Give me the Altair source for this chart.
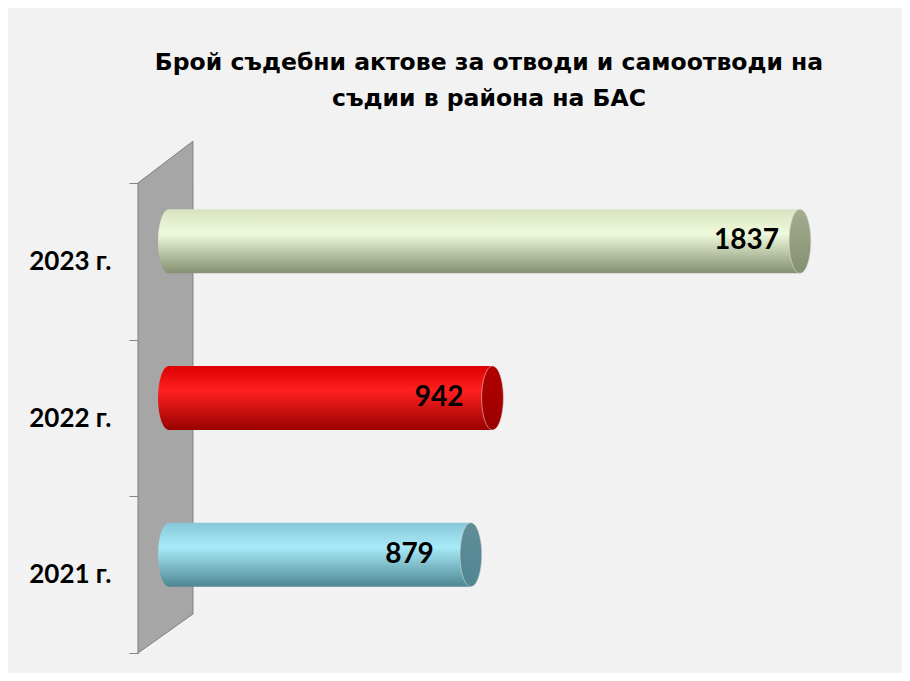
import altair as alt
import pandas as pd

# ---- data ----
years = ["2023 г.", "2022 г.", "2021 г."]
values = [1837, 942, 879]
title_lines = ["Брой съдебни актове за отводи и самоотводи на", "съдии в района на БАС"]

# ---- styles ----
bar_top = ["#d9e3c2", "#dd0000", "#86c8d8"]
bar_mid = ["#eefadb", "#ff2020", "#a8eaf8"]
bar_bot = ["#858f72", "#990000", "#4f8793"]
cap_col = ["#a4ad8e", "#b30000", "#5f8d98"]
label_dx = [-21, -29, -37]

# wall geometry (in data units of the x scale / a 0..1 wall scale)
wall_x = [-90, 70]
wall_y = [0.0, 0.083]
wall_y2 = [1.0, 1.089]

X_DOMAIN = [-90, 2070]
W, H = 742, 470
BAR_PX = 64
Y_SHIFT = -20

ellipse = ("M 0,-1 C 0.1878,-1 0.34,-0.5523 0.34,0 C 0.34,0.5523 0.1878,1 0,1 "
           "C -0.1878,1 -0.34,0.5523 -0.34,0 C -0.34,-0.5523 -0.1878,-1 0,-1 Z")

df = pd.DataFrame({"year": years, "value": values})
df["zero"] = 0
wall_df = pd.DataFrame({"wx": wall_x, "wy": wall_y, "wy2": wall_y2})

xscale = alt.Scale(domain=X_DOMAIN, nice=False, zero=False)
yenc = alt.Y("year:N", sort=years, title=None,
             scale=alt.Scale(paddingInner=0, paddingOuter=0),
             axis=alt.Axis(tickBand="extent", tickSize=9, tickColor="#868686",
                           domainColor="#868686", labelFont="Lato", labelFontSize=26,
                           labelFontWeight="bold", labelColor="#000000", labelPadding=18,
                           grid=False))

wall = alt.Chart(wall_df).mark_area(
    color="#a6a6a6", stroke="#7f7f7f", strokeWidth=1, clip=False
).encode(
    x=alt.X("wx:Q", scale=xscale, axis=None),
    y=alt.Y("wy:Q", scale=alt.Scale(domain=[0, 1], nice=False, zero=False), axis=None),
    y2="wy2:Q",
)

layers = []
for i, yr in enumerate(years):
    grad = alt.LinearGradient(
        gradient="linear", x1=0, y1=0, x2=0, y2=1,
        stops=[alt.GradientStop(color=bar_top[i], offset=0),
               alt.GradientStop(color=bar_mid[i], offset=0.38),
               alt.GradientStop(color=bar_bot[i], offset=1)])
    cgrad = alt.LinearGradient(
        gradient="linear", x1=0, y1=0, x2=0, y2=1,
        stops=[alt.GradientStop(color=cap_col[i], offset=0),
               alt.GradientStop(color=bar_bot[i], offset=1)])
    base = alt.Chart(df).transform_filter(alt.datum.year == yr)
    left_cap = base.mark_point(shape=ellipse, size=BAR_PX * BAR_PX, filled=True,
                               fill=grad, strokeWidth=0, opacity=1,
                               yOffset=Y_SHIFT).encode(
        x=alt.X("zero:Q", scale=xscale, axis=None), y=yenc)
    body = base.mark_bar(size=BAR_PX, fill=grad, yOffset=Y_SHIFT).encode(
        x=alt.X("zero:Q", scale=xscale, axis=None), x2="value:Q", y=yenc)
    right_cap = base.mark_point(shape=ellipse, size=BAR_PX * BAR_PX, filled=True,
                                fill=cgrad, stroke="#d8d8d8", strokeWidth=0.6,
                                opacity=1, yOffset=Y_SHIFT).encode(
        x=alt.X("value:Q", scale=xscale, axis=None), y=yenc)
    label = base.mark_text(align="right", baseline="middle", dx=label_dx[i], dy=Y_SHIFT,
                           font="Lato", fontSize=28, fontWeight="bold",
                           color="#000000").encode(
        x=alt.X("value:Q", scale=xscale, axis=None), y=yenc, text="value:Q")
    layers += [left_cap, body, right_cap, label]

bars = alt.layer(*layers)

chart = alt.layer(wall, bars).resolve_scale(y="independent").properties(
    width=W, height=H,
    title=alt.TitleParams(text=title_lines, font="DejaVu Sans", fontSize=23.5,
                          fontWeight="bold", color="#000000", anchor="middle",
                          frame="group", dx=-20, offset=29, lineHeight=36),
    background="#f2f2f2",
    padding={"left": 130, "top": 175, "right": 22, "bottom": 20},
    autosize=alt.AutoSizeParams(type="none"),
).configure_view(stroke=None)

chart.save("out.html", embed_options={"renderer": "svg", "actions": False})
